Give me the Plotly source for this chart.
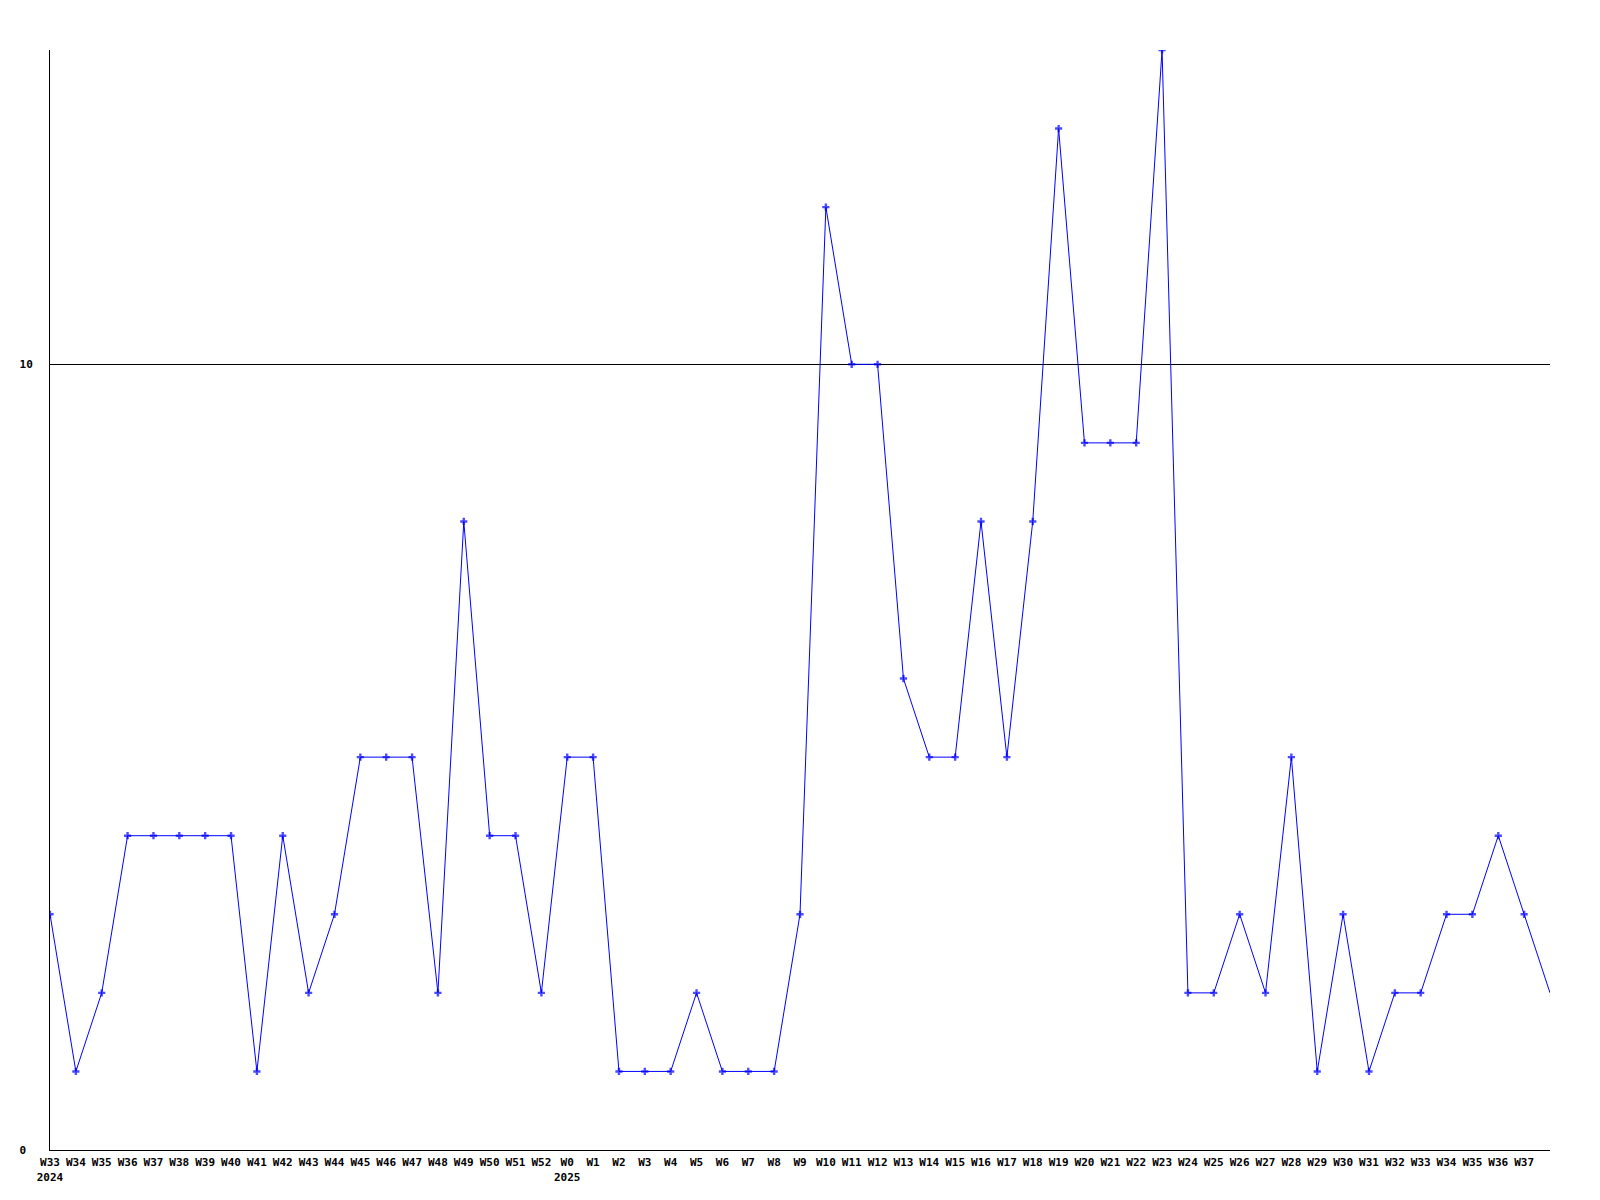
import plotly.graph_objects as go

weeks_2024 = ["W33", "W34", "W35", "W36", "W37", "W38", "W39", "W40", "W41", "W42",
              "W43", "W44", "W45", "W46", "W47", "W48", "W49", "W50", "W51", "W52"]
values_2024 = [3, 1, 2, 4, 4, 4, 4, 4, 1, 4, 2, 3, 5, 5, 5, 2, 8, 4, 4, 2]

weeks_2025 = ["W0", "W1", "W2", "W3", "W4", "W5", "W6", "W7", "W8", "W9",
              "W10", "W11", "W12", "W13", "W14", "W15", "W16", "W17", "W18", "W19",
              "W20", "W21", "W22", "W23", "W24", "W25", "W26", "W27", "W28", "W29",
              "W30", "W31", "W32", "W33", "W34", "W35", "W36", "W37", "W38"]
values_2025 = [5, 5, 1, 1, 1, 2, 1, 1, 1, 3,
               12, 10, 10, 6, 5, 5, 8, 5, 8, 13,
               9, 9, 9, 14, 2, 2, 3, 2, 5, 1,
               3, 1, 2, 2, 3, 3, 4, 3, 2]

y_ticks = [0, 10]
y_ticktext = ["0\u00a0", "10"]

values = values_2024 + values_2025
labels = weeks_2024 + weeks_2025
n = len(values)
x = list(range(n))

tick_text = []
for i, w in enumerate(labels[:-1]):
    if i == 0:
        tick_text.append(w + "<br>2024")
    elif i == len(weeks_2024):
        tick_text.append(w + "<br>2025")
    else:
        tick_text.append(w)

marker_sizes = [6] * (n - 1) + [0]

fig = go.Figure()
fig.add_trace(go.Scatter(
    x=x, y=values, mode="lines+markers",
    line=dict(color="#0000ff", width=1),
    marker=dict(symbol="cross", size=marker_sizes, color="#0000ff", line=dict(width=0)),
    hoverinfo="y",
))

font = dict(family="DejaVu Sans Mono", size=11, color="black", weight="bold")

fig.update_layout(
    width=1584, height=1184,
    margin=dict(l=42, r=42, t=42, b=42, pad=0),
    paper_bgcolor="white", plot_bgcolor="white",
    showlegend=False,
    font=font,
    xaxis=dict(
        range=[0, n - 1], tickvals=x[:-1], ticktext=tick_text,
        showgrid=False, zeroline=False, showline=True, linecolor="black", linewidth=1,
        ticks="", tickfont=font, tickangle=0, automargin=False, ticklabelstandoff=2,
    ),
    yaxis=dict(
        range=[0, 14], tickvals=y_ticks, ticktext=y_ticktext,
        showgrid=True, gridcolor="black", gridwidth=1, zeroline=False,
        showline=True, linecolor="black", linewidth=1,
        ticks="", tickfont=font, ticklabelstandoff=14, automargin=False,
    ),
)

fig.write_html("out.html")
